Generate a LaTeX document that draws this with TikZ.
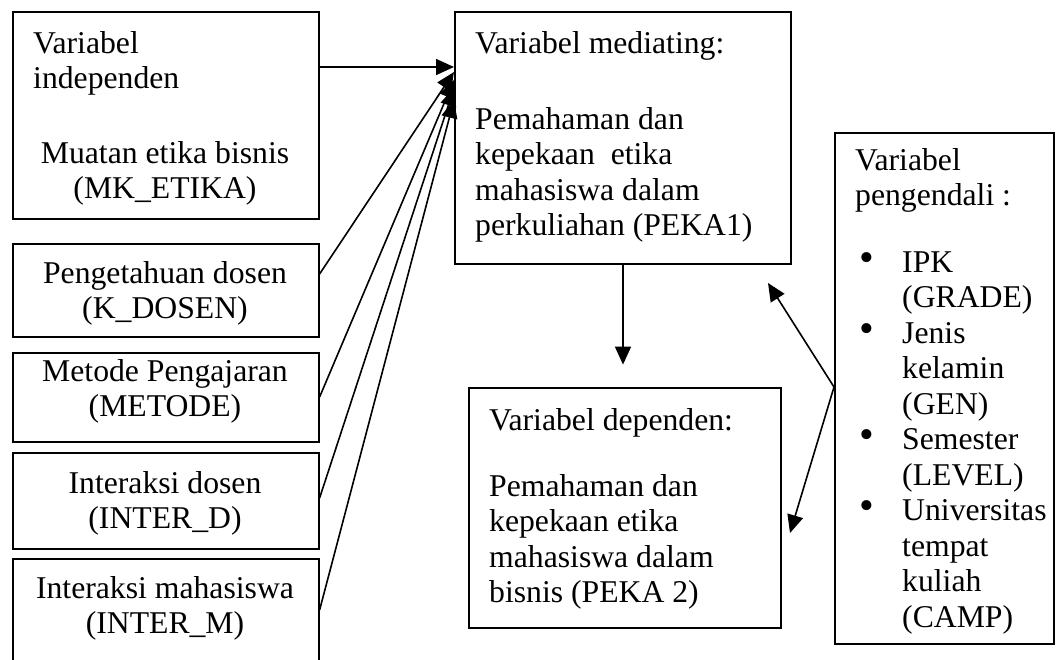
\documentclass[tikz,border=0pt]{standalone}
\usepackage{fontspec}
\setmainfont{Liberation Serif}
\usetikzlibrary{arrows.meta,calc}
\begin{document}
\begin{tikzpicture}[x=1pt,y=-1pt,
  box/.style={draw, line width=1.6pt, inner sep=0pt, anchor=north west, rectangle},
  txt/.style={inner sep=0pt, font=\fontsize{31.7}{35.5}\selectfont},
  bul/.style={inner sep=0pt, font=\fontsize{42}{42}\selectfont, anchor=base},
  conn/.style={line width=1.6pt, -{Triangle[length=18pt,width=16pt]}}]
\useasboundingbox (0,0) rectangle (1059,659);
\clip (0,0) rectangle (1059,659);
% boxes
\node[box, minimum width=306pt, minimum height=207pt] (b1) at (12,11) {};
\node[box, minimum width=306pt, minimum height=93pt] (b2) at (12,243) {};
\node[box, minimum width=306pt, minimum height=89pt] (b3) at (12,352) {};
\node[box, minimum width=306pt, minimum height=96pt] (b4) at (12,452) {};
\node[box, minimum width=306pt, minimum height=130pt] (b5) at (12,558) {};
\node[box, minimum width=336pt, minimum height=252pt] (med) at (454,11) {};
\node[box, minimum width=312pt, minimum height=240pt] (dep) at (468,387) {};
\node[box, minimum width=219pt, minimum height=511pt] (ctrl) at (834,132) {};
% texts
\node[txt, anchor=base west] (t1a) at (33,53) {\begin{tabular}[t]{@{}l@{}}Variabel\\independen\end{tabular}};
\node[txt, anchor=base] (t1b) at (165,163) {\begin{tabular}[t]{@{}c@{}}Muatan etika bisnis\\(MK\_ETIKA)\end{tabular}};
\node[txt, anchor=base] (t2) at (165,283) {\begin{tabular}[t]{@{}c@{}}Pengetahuan dosen\\(K\_DOSEN)\end{tabular}};
\node[txt, anchor=base] (t3) at (165,381) {\begin{tabular}[t]{@{}c@{}}Metode Pengajaran\\(METODE)\end{tabular}};
\node[txt, anchor=base] (t4) at (165,493) {\begin{tabular}[t]{@{}c@{}}Interaksi dosen\\(INTER\_D)\end{tabular}};
\node[txt, anchor=base] (t5) at (165,598) {\begin{tabular}[t]{@{}c@{}}Interaksi mahasiswa\\(INTER\_M)\end{tabular}};
\node[txt, anchor=base west] (tm) at (475,53) {\begin{tabular}[t]{@{}l@{}}Variabel mediating:\\[40.5pt]Pemahaman dan\\kepekaan\ \ etika\\mahasiswa dalam\\perkuliahan (PEKA1)\end{tabular}};
\node[txt, anchor=base west] (td) at (489,430) {\begin{tabular}[t]{@{}l@{}}Variabel dependen:\\[30.5pt]Pemahaman dan\\kepekaan etika\\mahasiswa dalam\\bisnis (PEKA 2)\end{tabular}};
\node[txt, anchor=base west] (tc) at (855,170) {\begin{tabular}[t]{@{}l@{}}Variabel\\pengendali :\end{tabular}};
\node[txt, anchor=base west] (tl) at (902,272) {\begin{tabular}[t]{@{}l@{}}IPK\\(GRADE)\\Jenis\\kelamin\\(GEN)\\Semester\\(LEVEL)\\Universitas\\tempat\\kuliah\\(CAMP)\end{tabular}};
\node[bul] (u1) at (867,271) {•};
\node[bul] (u2) at (867,342) {•};
\node[bul] (u3) at (867,448.5) {•};
\node[bul] (u4) at (867,519.5) {•};
% free ends
\coordinate (dtip) at ($(med.south west)+(169,100)$);
\coordinate (cj) at ($(ctrl.north west)+(0,255)$);
\coordinate (ctip1) at (768,283);
\coordinate (ctip2) at (790,533);
% connectors
\draw[conn] ($(b1.north east)+(0,56)$) -- ($(med.north west)+(0,56)$);
\draw[conn] ($(b2.north east)+(0,31)$) -- ($(med.north west)+(0,61)$);
\draw[conn] ($(b3.north east)+(0,45)$) -- ($(med.north west)+(0,69)$);
\draw[conn] ($(b4.north east)+(0,46)$) -- ($(med.north west)+(0,77)$);
\draw[conn] ($(b5.north east)+(0,52)$) -- ($(med.north west)+(0,89)$);
\draw[conn] ($(med.south west)+(169,0)$) -- (dtip);
\draw[conn] (cj) -- (ctip1);
\draw[conn] (cj) -- (ctip2);
\end{tikzpicture}
\end{document}
